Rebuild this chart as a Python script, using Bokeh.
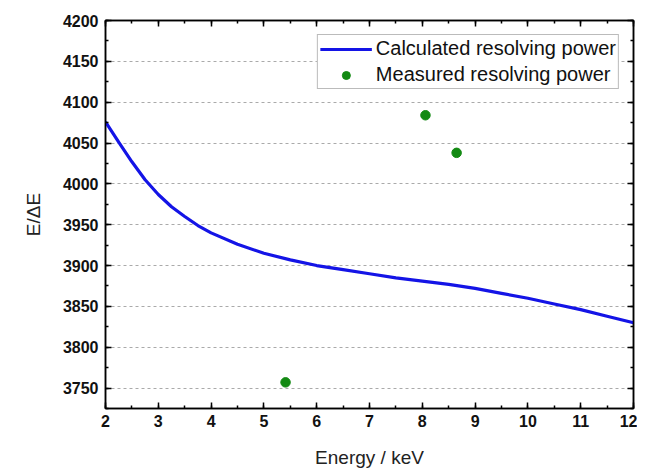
from bokeh.plotting import figure
from bokeh.models import (LinearAxis, SingleIntervalTicker, Range1d, Legend, LegendItem,
                          CustomJSTickFormatter)
from bokeh.embed import file_html
from bokeh.resources import INLINE

# Calculated resolving power curve
calc_energy = [2.0, 2.25, 2.5, 2.75, 3.0, 3.25, 3.5, 3.75, 4.0, 4.5, 5.0, 5.5, 6.0,
               6.5, 7.0, 7.5, 8.0, 8.5, 9.0, 9.5, 10.0, 10.5, 11.0, 11.5, 12.0]
calc_power = [4076, 4051, 4027, 4005, 3987, 3972, 3960, 3949, 3940, 3926, 3915, 3907, 3900,
              3895, 3890, 3885, 3881, 3877, 3872, 3866, 3860, 3853, 3846, 3838, 3830]

# Measured resolving power
meas_energy = [5.41, 8.06, 8.65]
meas_power = [3757, 4084, 4038]

FONT = "Liberation Sans"

p = figure(output_backend="svg", toolbar_location=None,
           x_range=Range1d(2, 12), y_range=Range1d(3725, 4200),
           min_border_left=105, min_border_top=20, min_border_right=4, min_border_bottom=51,
           frame_width=528, frame_height=388)
p.outline_line_color = "black"
p.outline_line_width = 1.5
p.background_fill_color = "white"
p.border_fill_color = "white"

l1 = p.line(calc_energy, calc_power, line_color="#1414e6", line_width=3.2)
s1 = p.scatter(meas_energy, meas_power, size=9.5, fill_color="#138a13", line_color="#138a13")

def style_axis(ax, interval, show_labels=True):
    ax.ticker = SingleIntervalTicker(interval=interval, num_minor_ticks=2)
    ax.major_tick_in = 6
    ax.major_tick_out = 0
    ax.minor_tick_in = 3
    ax.minor_tick_out = 0
    ax.axis_line_color = "black"
    ax.axis_line_width = 1.5
    ax.major_tick_line_width = 1.5
    ax.minor_tick_line_width = 1.5
    if show_labels:
        ax.major_label_text_font = FONT
        ax.major_label_text_font_style = "bold"
        ax.major_label_text_font_size = "16px"
        ax.major_label_text_color = "#111111"
    else:
        ax.formatter = CustomJSTickFormatter(code="return ''")
        ax.major_label_standoff = 0

style_axis(p.xaxis[0], 1)
style_axis(p.yaxis[0], 50)
p.xaxis[0].major_label_standoff = 6
p.yaxis[0].major_label_standoff = 7

p.xaxis.axis_label = "Energy / keV"
p.yaxis.axis_label = "E/ΔE"
for ax in (p.xaxis[0], p.yaxis[0]):
    ax.axis_label_text_font = FONT
    ax.axis_label_text_font_style = "normal"
    ax.axis_label_text_font_size = "19px"
    ax.axis_label_text_color = "#222222"
p.xaxis[0].axis_label_standoff = 17
p.yaxis[0].axis_label_standoff = 16

top = LinearAxis()
style_axis(top, 1, show_labels=False)
p.add_layout(top, "above")
right = LinearAxis()
style_axis(right, 50, show_labels=False)
p.add_layout(right, "right")

p.xgrid.grid_line_color = None
p.ygrid.ticker = SingleIntervalTicker(interval=50)
p.ygrid.grid_line_color = "#aaaaaa"
p.ygrid.grid_line_dash = "3 3"
p.ygrid.grid_line_width = 1

legend = Legend(items=[LegendItem(label="Calculated resolving power", renderers=[l1]),
                       LegendItem(label="Measured resolving power", renderers=[s1])],
                location="top_right")
legend.label_text_font = FONT
legend.label_text_font_size = "20px"
legend.label_text_color = "#111111"
legend.glyph_width = 52
legend.glyph_height = 20
legend.label_standoff = 4
legend.spacing = 3
legend.padding = 2
legend.margin = 14
legend.border_line_color = "#777777"
legend.border_line_width = 1
legend.background_fill_alpha = 1
p.add_layout(legend, "center")

open("out.html", "w").write(file_html(p, INLINE))
